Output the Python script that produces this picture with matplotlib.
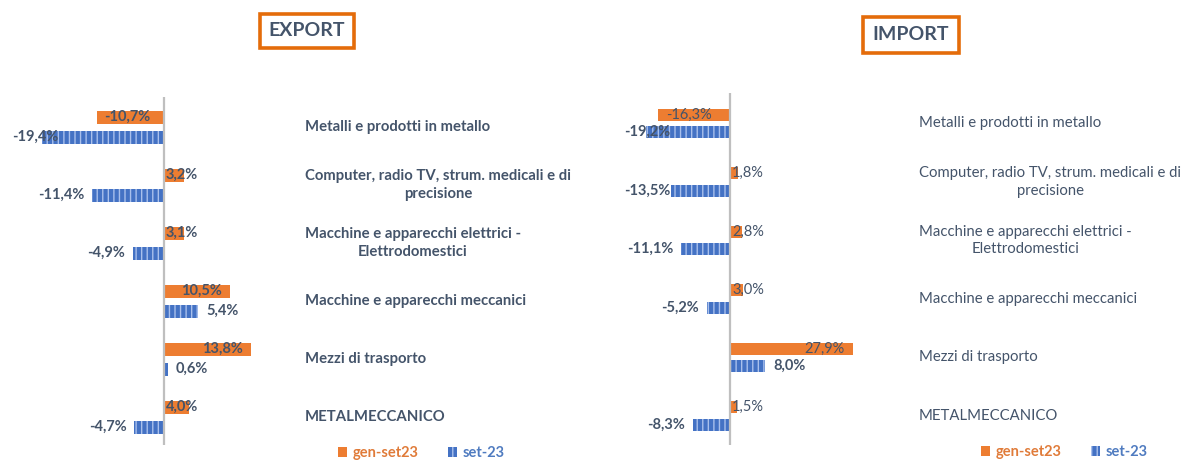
import matplotlib
matplotlib.use('Agg')
import matplotlib.pyplot as plt
import matplotlib.transforms as mtrans

plt.rcParams['font.family'] = ['Lato', 'DejaVu Sans']
plt.rcParams['hatch.linewidth'] = 1.0

# ---------------- data ----------------
categories = [
    "Metalli e prodotti in metallo",
    "Computer, radio TV, strum. medicali e di\nprecisione",
    "Macchine e apparecchi elettrici -\nElettrodomestici",
    "Macchine e apparecchi meccanici",
    "Mezzi di trasporto",
    "METALMECCANICO",
]
series_names = ["gen-set23", "set-23"]
export_genset = [-10.7, 3.2, 3.1, 10.5, 13.8, 4.0]
export_set = [-19.4, -11.4, -4.9, 5.4, 0.6, -4.7]
import_genset = [-16.3, 1.8, 2.8, 3.0, 27.9, 1.5]
import_set = [-19.2, -13.5, -11.1, -5.2, 8.0, -8.3]
panel_titles = ["EXPORT", "IMPORT"]

# ---------------- style ----------------
W, H, DPI = 1186, 462, 100
ORANGE = '#ED7D31'
BLUE = '#4472C4'
STRIPE = '#A9C0EC'
TXT = '#44546A'
AXIS = '#BFBFBF'

fig = plt.figure(figsize=(W / DPI, H / DPI), dpi=DPI)
fig.patch.set_facecolor('white')


def fx(x):
    return x / W


def fy(y):
    return 1 - y / H


def fmt(v):
    return f"{v:.1f}".replace('.', ',') + '%'


panels = [
    dict(title=panel_titles[0], a=export_genset, b=export_set,
         axis_x=164, scale=6.3, left=12, right=292, top=97, bottom=445,
         first=127, spacing=58, bh=13, off=10, label_x=305,
         title_xy=(307, 31), legend_xy=(421, 453), title_pad=0.45,
         cat_weight='bold', a_weight='bold', b_weight='bold', fs=10.5),
    dict(title=panel_titles[1], a=import_genset, b=import_set,
         axis_x=730, scale=4.4, left=624, right=905, top=93, bottom=445,
         first=123.5, spacing=58.5, bh=12, off=8.7, label_x=919,
         title_xy=(911, 35), legend_xy=(1064, 452), title_pad=0.5,
         cat_weight='normal', a_weight='normal', b_weight='bold', fs=10.5),
]

fig.canvas.draw()
renderer = fig.canvas.get_renderer()


def place_labels(ax, bars, vals, mode, color, weight, fs, pad=8):
    fig.canvas.draw()
    axbb = ax.get_window_extent(renderer)
    for rect, v in zip(bars, vals):
        yc = rect.get_y() + rect.get_height() / 2
        t = ax.text(0, yc, fmt(v), ha='left', va='center', color=color,
                    fontsize=fs, fontweight=weight, clip_on=False)
        w = t.get_window_extent(renderer).width
        x0, yd = ax.transData.transform((0, yc))
        xe = ax.transData.transform((v, yc))[0]
        if mode == 'inside':
            if v >= 0:
                lx = max(xe - pad - w, x0 + 2)
            else:
                lx = min(xe + pad, x0 - 2 - w)
        else:
            if v >= 0:
                lx = xe + pad
            else:
                lx = max(xe - pad - w, axbb.x0)
        t.set_position(ax.transData.inverted().transform((lx, yd)))


for p in panels:
    n = len(categories)
    ax = fig.add_axes([fx(p['left']), fy(p['bottom']),
                       fx(p['right'] - p['left']),
                       (p['bottom'] - p['top']) / H])
    xl = (p['left'] - p['axis_x']) / p['scale']
    xr = (p['right'] - p['axis_x']) / p['scale']
    ax.set_xlim(xl, xr)
    yt = (p['top'] - p['first']) / p['spacing']
    yb = (p['bottom'] - p['first']) / p['spacing']
    ax.set_ylim(yb, yt)
    for s in ax.spines.values():
        s.set_visible(False)
    ax.set_xticks([])
    ax.set_yticks([])
    ax.patch.set_alpha(0)

    pos = list(range(n))
    h = p['bh'] / p['spacing']
    off = p['off'] / p['spacing']
    bars_a = ax.barh([y - off for y in pos], p['a'], height=h, color=ORANGE,
                     linewidth=0, label=series_names[0], zorder=2)
    bars_b = ax.barh([y + off for y in pos], p['b'], height=h, color=BLUE,
                     edgecolor=STRIPE, hatch='|||', linewidth=0,
                     label=series_names[1], zorder=2)
    ax.axvline(0, color=AXIS, lw=1.6, zorder=3)

    place_labels(ax, bars_a, p['a'], 'inside', TXT, p['a_weight'], p['fs'])
    place_labels(ax, bars_b, p['b'], 'outside', TXT, p['b_weight'], p['fs'])

    # category labels
    tr = mtrans.blended_transform_factory(fig.transFigure, ax.transData)
    for y, c in zip(pos, categories):
        ax.text(fx(p['label_x']), y, c, transform=tr, ha='left', va='center',
                multialignment='center', color=TXT, fontsize=10.7,
                fontweight=p['cat_weight'], linespacing=1.35, clip_on=False)

    # title box
    fig.text(fx(p['title_xy'][0]), fy(p['title_xy'][1]), p['title'],
             ha='center', va='center', fontsize=14, fontweight='bold',
             color=TXT,
             bbox=dict(boxstyle=f"square,pad={p['title_pad']}", fc='white',
                       ec='#E46C0A', lw=2.6))

    # legend
    fig.legend([bars_a, bars_b], series_names, loc='center',
               bbox_to_anchor=(fx(p['legend_xy'][0]), fy(p['legend_xy'][1])),
               ncol=2, frameon=False,
               prop=dict(weight='bold', size=10.5),
               labelcolor=['#E07B39', '#4F7BC0'], handlelength=0.65,
               handleheight=0.65, handletextpad=0.35, columnspacing=2.0,
               borderpad=0, borderaxespad=0)

fig.savefig('out.png', dpi=DPI, facecolor='white')
